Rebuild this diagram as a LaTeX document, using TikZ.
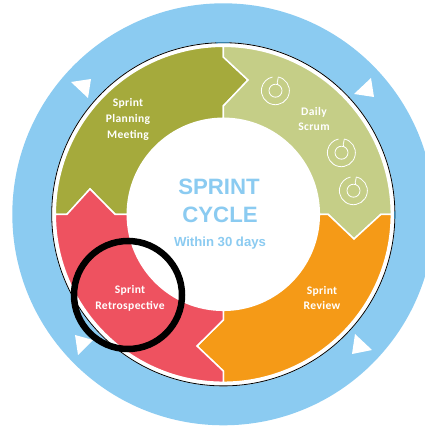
\documentclass[tikz,border=0pt]{standalone}
\usepackage{fontspec}
\setmainfont{Carlito}
\newfontfamily\arialfont{Liberation Sans}
\definecolor{skyring}{HTML}{8BCBF1}
\definecolor{olivebit}{HTML}{A5AA3C}
\definecolor{palegreen}{HTML}{C5CE87}
\definecolor{orangebit}{HTML}{F59A17}
\definecolor{redbit}{HTML}{EE5260}
\definecolor{deepblue}{HTML}{2D9BD8}
\tikzset{
  segment/.style={draw=white,line width=1.5bp,line join=miter},
  marker/.style={fill=white,draw=none},
  lab/.style={text=white,font=\fontsize{11.6}{16}\selectfont\bfseries,align=center,inner sep=0pt,
     /utils/exec={\addfontfeatures{LetterSpace=3}}},
  icon/.style={draw=white,line width=0.8bp},
}
\newcommand{\spiralicon}[2]{%
  \begin{scope}[shift={(#1,#2)}]
    \draw[icon] (2.8,13.7) arc (78:-258:14);
    \draw[icon] (0,0) circle (6.5);
    \draw[icon] (2.8,13.7) .. controls (3.6,10.5) and (0.5,10) .. (2.2,6.1);
  \end{scope}}
\begin{document}
\begin{tikzpicture}[x=1bp,y=1bp]
\useasboundingbox (0,0) rectangle (425,427);
\clip (0,0) rectangle (425,427);
\coordinate (c) at (223.3,212.7);
\fill[skyring] (c) circle (211);
\fill[white] (c) circle (172);
\draw[black,line width=0.8bp] (c) circle (171.6);
\draw[deepblue,line width=0.9bp] (c) ++(92.5:171.6) arc (92.5:88:171.6);
\draw[deepblue,line width=0.9bp] (c) ++(1:171.6) arc (1:-1.5:171.6);
% olive
\draw[segment,fill=olivebit] (55.3,212.7) arc (180:90:168) -- (223.3,370) -- (248,347) -- (223.3,321) -- (223.3,308.7) arc (90:180:96) -- (115,212.7) -- (90,238) -- (67,212.7) -- cycle;
% pale green
\draw[segment,fill=palegreen] (223.3,380.7) arc (90:0:168) -- (381,212.7) -- (354,188) -- (328,212.7) -- (319.3,212.7) arc (0:90:96) -- (223.3,321) -- (248,347) -- (223.3,370) -- cycle;
% orange
\draw[segment,fill=orangebit] (391.3,212.7) arc (0:-90:168) -- (223.3,56) -- (197,81) -- (223.3,107) -- (223.3,116.7) arc (-90:0:96) -- (328,212.7) -- (354,188) -- (381,212.7) -- cycle;
% red
\draw[segment,fill=redbit] (223.3,44.7) arc (-90:-180:168) -- (67,212.7) -- (90,238) -- (115,212.7) -- (127.3,212.7) arc (180:270:96) -- (223.3,107) -- (197,81) -- (223.3,56) -- cycle;
% direction markers
\fill[marker] (71,345) -- (91,348) -- (88,329) -- cycle;
\fill[marker] (354,333) -- (371,349) -- (374,330) -- cycle;
\fill[marker] (355,93) -- (372,77) -- (352,73) -- cycle;
\fill[marker] (75,92) -- (93,87) -- (78,72) -- cycle;
% icons
\spiralicon{275.5}{336.3}
\spiralicon{341.5}{274.3}
\spiralicon{353.5}{236.3}
% labels
\node[lab] (planning) at (128,308) {Sprint\\Planning\\Meeting};
\node[lab] (scrum) at (314,308) {Daily\\Scrum};
\node[lab] (review) at (322,129) {Sprint\\Review};
\node[lab] (retro) at (130,129) {Sprint\\Retrospective};
\node[text=skyring,inner sep=0pt,font=\arialfont\fontsize{22.3}{28}\selectfont\bfseries] (title1) at (219,240) {SPRINT};
\node[text=skyring,inner sep=0pt,font=\arialfont\fontsize{22.3}{28}\selectfont\bfseries] (title2) at (220,212) {CYCLE};
\node[text=skyring,inner sep=0pt,font=\arialfont\fontsize{13.2}{16}\selectfont\bfseries] (title3) at (220,184) {Within 30 days};
\draw[black,line width=6.5bp] (128,132) circle (54);
\end{tikzpicture}
\end{document}
